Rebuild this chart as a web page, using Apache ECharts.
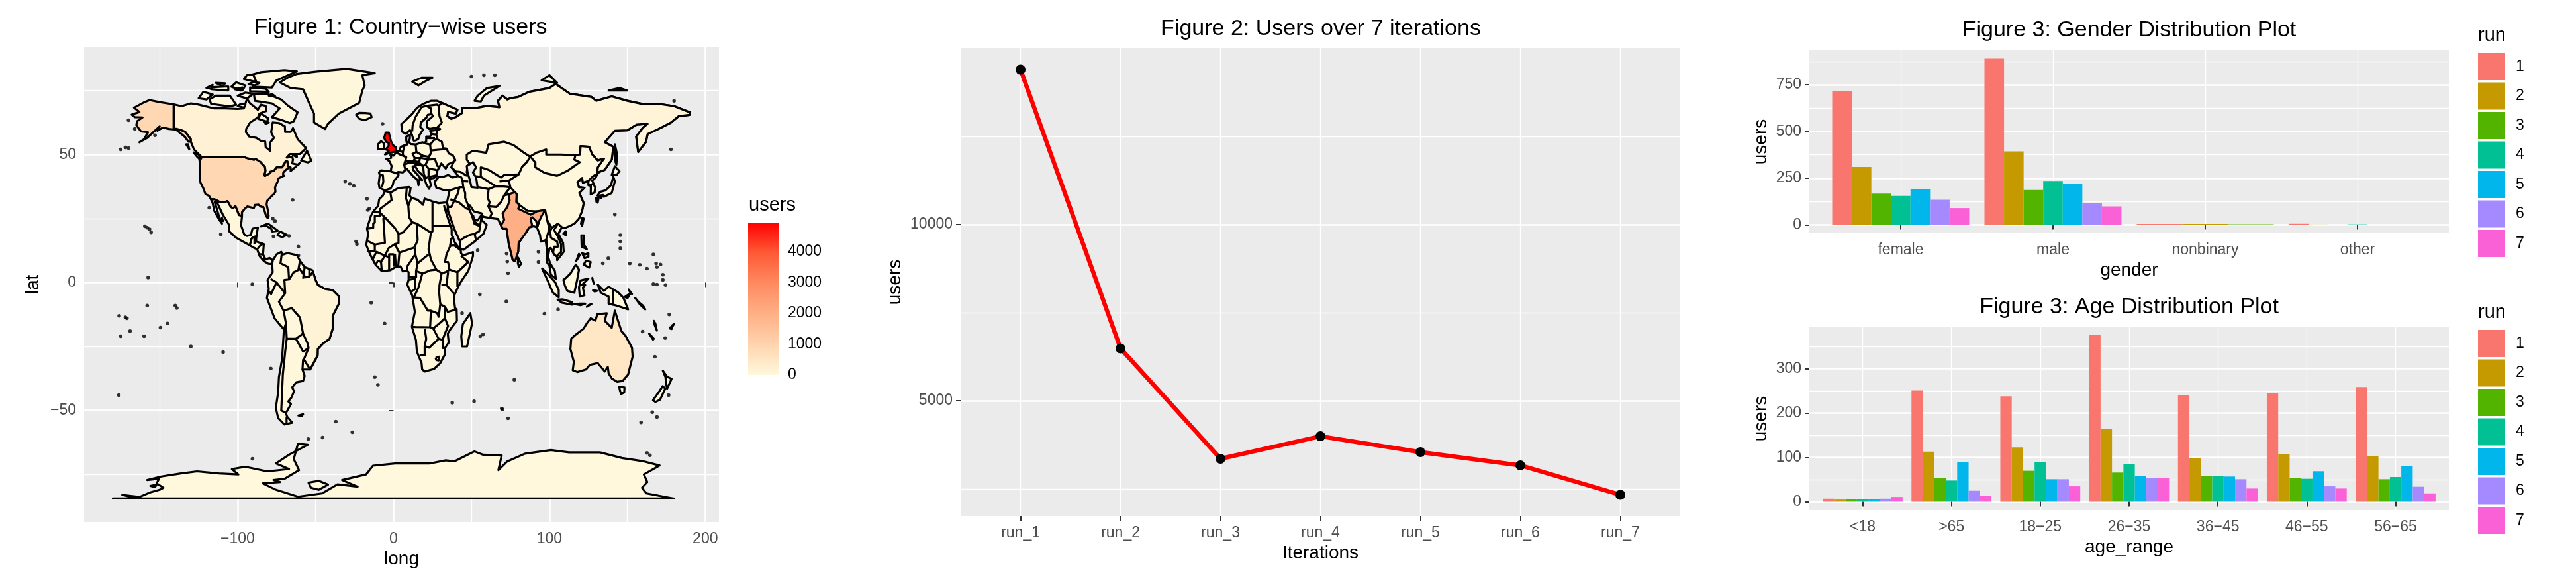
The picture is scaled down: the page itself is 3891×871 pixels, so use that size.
<!DOCTYPE html>
<html>

<head>
    <meta charset="UTF-8">
    <title>Figures</title>
    <script src="https://cdn.jsdelivr.net/npm/echarts@6/dist/echarts.min.js"></script>
</head>

<body style="margin: 0;padding: 0;background: #fff;">
    <div id="container" style="width:3891px; height:871px;"></div>
    <script>
        // ---- figure 2 ----
        var iterationLabels = ['run_1', 'run_2', 'run_3', 'run_4', 'run_5', 'run_6', 'run_7'];
        var iterationUsers = [14392, 6482, 3352, 3989, 3540, 3164, 2329];

        // ---- figure 3 ----
        var runNames = ['1', '2', '3', '4', '5', '6', '7'];
        var runColors = ['#F8766D', '#C49A00', '#53B400', '#00C094', '#00B6EB', '#A58AFF', '#FB61D7'];
        var genderLabels = ['female', 'male', 'nonbinary', 'other'];
        var genderRun1 = [717, 890, 5, 6];
        var genderRun2 = [310, 394, 5, 2];
        var genderRun3 = [167, 187, 3, 1];
        var genderRun4 = [155, 235, null, 3];
        var genderRun5 = [192, 218, null, 1];
        var genderRun6 = [135, 116, null, 1];
        var genderRun7 = [90, 99, null, 1];
        var genderByRun = [genderRun1, genderRun2, genderRun3, genderRun4, genderRun5, genderRun6, genderRun7];

        var ageLabels = ['<18', '>65', '18\u221225', '26\u221235', '36\u221245', '46\u221255', '56\u221265'];
        var ageRun1 = [7, 251, 238, 376, 241, 245, 259];
        var ageRun2 = [5, 113, 123, 165, 98, 107, 103];
        var ageRun3 = [6, 53, 70, 66, 59, 53, 51];
        var ageRun4 = [6, 48, 90, 86, 59, 52, 56];
        var ageRun5 = [6, 90, 51, 59, 57, 69, 81];
        var ageRun6 = [7, 25, 51, 54, 51, 35, 34];
        var ageRun7 = [11, 13, 35, 54, 30, 30, 19];
        var ageByRun = [ageRun1, ageRun2, ageRun3, ageRun4, ageRun5, ageRun6, ageRun7];

        // ---- figure 1: users per country and outlines, flat lon,lat lists ----
        var colorBarTicks = [0, 1000, 2000, 3000, 4000];
        var maxUsers = 4944;
        var rampColors = ['#FFF8DC', '#FFD4AE', '#FFB086', '#FF8A60', '#FF5A36', '#FF0000'];

        var eurasia = [-9, 37, -9.5, 38.7, -8.8, 41.9, -9.3, 43, -8, 43.8, -1.8, 43.4, -1.2, 45.5, -2.5, 47.3, -4.7, 48.3, -1.5, 48.7, -1.7, 49.7, 0.2, 49.6, 1.6, 50.9, 3.5, 51.4, 4.7, 53, 7, 53.6, 8.7, 53.9, 8.2, 55.5, 8.2, 57, 10.5, 57.7, 10.5, 56.3, 9.8, 55, 11, 54.1, 14.2, 53.9, 18.5, 54.8, 19.8, 54.5, 21, 55.2, 21, 57, 23.5, 57, 24.4, 58.3, 23.5, 59.2, 28, 59.6, 30, 60, 28, 60.5, 23, 60, 21.3, 60.8, 21.5, 63, 25.3, 65, 24.5, 65.8, 22, 65.5, 21.2, 64.5, 17.5, 62.5, 17.2, 60.7, 19, 59.8, 16.6, 57.5, 16, 56.2, 14.3, 55.5, 13, 55.4, 11.2, 58.9, 10.6, 59.5, 8, 58.1, 5.5, 58.9, 5, 61.8, 8.5, 63.8, 12, 65.9, 15, 68.2, 19, 69.8, 24, 71, 28, 71, 31, 70.2, 41, 67.5, 40, 66, 35, 66.7, 34.5, 65, 37, 63.9, 40, 64.6, 44, 66.2, 44, 68.3, 54, 68.3, 60, 69, 68, 68.5, 67, 71, 70, 73, 73, 71.5, 75, 72, 80, 72.5, 87, 74.5, 100, 76, 104, 77.6, 113, 73.8, 127, 72.5, 130, 71, 140, 72.7, 150, 71, 160, 69.7, 170, 69.8, 180, 68.9, 190, 66.5, 190, 65.5, 183, 65, 178, 62.5, 170, 60, 163, 58, 162, 55, 157, 51, 155.7, 57, 160, 60.5, 163, 62, 156, 61.7, 150, 59.5, 142, 59.3, 135.5, 54.8, 141, 53, 140, 48, 135.5, 44, 132, 43.2, 130.7, 42.3, 129.7, 41, 127.5, 39.8, 129.4, 37, 129, 35.2, 126.5, 34.4, 126.6, 37.7, 125, 38, 125, 39.7, 121.5, 39, 121, 40.8, 118, 39.2, 119, 37.2, 122.5, 37, 119.2, 35, 122, 31, 121, 28, 119, 25, 116, 23, 113.5, 22.2, 110, 21.3, 108, 21.6, 105.8, 19, 108.8, 15.5, 109.2, 12, 105, 8.7, 105, 10, 103, 11, 100.9, 13.5, 100, 13.3, 99.2, 10, 100.5, 7.5, 103.5, 4.5, 104.2, 1.4, 101, 3, 100, 6.5, 98.3, 8, 98.6, 12, 97.6, 16.5, 94.5, 16, 94, 18.5, 92, 21.5, 90, 22, 87, 21.5, 85, 19.5, 80.3, 15.5, 80, 12, 78, 8.3, 76.5, 8.8, 74, 15, 72.8, 20, 72.5, 21, 70, 21, 69, 22.3, 67, 24.8, 62, 25.2, 57.5, 25.7, 56.5, 27, 51.5, 27.8, 49, 30.2, 48, 30, 48.7, 28.5, 50.1, 26.5, 51.2, 26, 51.6, 24.5, 54, 24.2, 56.3, 26.2, 56.8, 24.2, 59.8, 22.5, 57.7, 19, 52, 16, 45, 12.8, 43, 13, 42.7, 16, 39, 21, 35, 28, 34.9, 29.5, 34.3, 31.3, 36, 36, 32.5, 36.1, 30.5, 36.5, 27.5, 37, 26.3, 39.3, 29, 41.2, 31.5, 41.2, 35, 42, 38, 41, 41.5, 41.6, 37.5, 44.7, 39, 47.2, 35, 46.2, 33.5, 44.5, 30.7, 46.5, 28, 43.5, 28, 41.7, 26, 40.8, 23, 40.5, 24, 38, 22.8, 36.6, 21, 38.5, 19.4, 41.5, 15.8, 43.5, 13.8, 45.5, 12.3, 45.3, 12.5, 44, 16, 41.7, 18.4, 40, 16.8, 40.5, 16, 38, 15.5, 40, 12.5, 41.5, 10.5, 43, 8.5, 44.4, 6, 43, 3, 43.2, 3.2, 41.8, 0, 39.5, -0.5, 38, -2, 36.7, -5.5, 36];
        var russia = [28, 59.6, 30, 60, 28, 60.5, 31, 62.5, 29.5, 65, 29, 69, 31, 70.2, 41, 67.5, 40, 66, 35, 66.7, 34.5, 65, 37, 63.9, 40, 64.6, 44, 66.2, 44, 68.3, 54, 68.3, 60, 69, 68, 68.5, 67, 71, 70, 73, 73, 71.5, 75, 72, 80, 72.5, 87, 74.5, 100, 76, 104, 77.6, 113, 73.8, 127, 72.5, 130, 71, 140, 72.7, 150, 71, 160, 69.7, 170, 69.8, 180, 68.9, 190, 66.5, 190, 65.5, 183, 65, 178, 62.5, 170, 60, 163, 58, 162, 55, 157, 51, 155.7, 57, 160, 60.5, 163, 62, 156, 61.7, 150, 59.5, 142, 59.3, 135.5, 54.8, 141, 53, 140, 48, 135.5, 44, 132, 43.2, 130.7, 42.5, 131, 45, 135, 48.4, 131, 47.7, 127.5, 50, 125.5, 53, 120, 53.3, 119.7, 50, 116.7, 49.8, 107, 50, 98, 50, 98, 52, 92, 50.8, 87.5, 49.2, 83, 51, 77, 53.7, 71, 55, 61, 54, 59.5, 50.7, 51, 51.5, 47, 50, 47, 48, 49, 46.3, 47.5, 45.5, 47, 43, 48.5, 41.8, 46.7, 41.8, 43, 43.2, 40, 43.4, 37, 45, 38.5, 47, 39.7, 47.8, 38, 49.8, 35.5, 50.4, 34, 52.3, 31.7, 52.5, 31, 55, 28, 56, 27.5, 57.8];
        var china = [130.7, 42.5, 131, 45, 135, 48.4, 131, 47.7, 127.5, 50, 125.5, 53, 120, 53.3, 119.7, 50, 116.7, 49.8, 116, 48, 119.5, 47, 111.8, 43.7, 105, 41.7, 97, 42.8, 91, 45, 91, 46.8, 87.8, 49.2, 85.5, 47, 82.5, 45.2, 80.3, 42.2, 74, 39.8, 75, 37.2, 79, 34.5, 78.8, 31.5, 81, 30.2, 86, 28, 92, 27.8, 97.3, 28.3, 98.5, 24.5, 101.5, 21.3, 105.5, 23, 108, 21.6, 110, 21.3, 113.5, 22.2, 116, 23, 119, 25, 121, 28, 122, 31, 119.2, 35, 122.5, 37, 119, 37.2, 118, 39.2, 121, 40.8, 121.5, 39, 125, 39.7, 128, 41.5];
        var india = [74, 34.5, 78, 35.3, 79, 34.5, 78.8, 31.5, 81, 30.2, 80, 28.8, 88, 26.5, 89, 26.8, 92, 27.8, 97.3, 28.3, 95, 26, 93.5, 24, 92.3, 21.8, 91.5, 24, 89, 25.5, 88, 25, 89, 22, 87, 21.5, 85, 19.5, 80.3, 15.5, 80, 12, 78, 8.3, 76.5, 8.8, 74, 15, 72.8, 20, 72.5, 21, 70, 21, 69, 22.3, 71, 24.5, 70, 27, 73, 29.5, 74.5, 32];
        var saudiArabia = [34.9, 29.5, 37, 29.5, 39, 32, 42, 31.3, 46.5, 29, 48.7, 28.5, 50.1, 26.5, 51.2, 24.5, 52, 22.9, 55.5, 22, 55, 20, 52, 19, 49, 18.6, 45, 17.4, 43, 16.5, 42.7, 16, 39, 21, 35, 28];
        var usa = [-124.7, 48.4, -123, 49, -95.2, 49, -94.6, 48.7, -92, 48.3, -89.5, 48, -88.4, 48.3, -84.8, 46.9, -84.5, 46.4, -82.5, 45.3, -82.1, 43.6, -82.5, 42.6, -83.1, 42, -82.4, 41.7, -79, 42.8, -79, 43.3, -76.8, 43.6, -75, 45, -71.5, 45, -70.3, 46.2, -69.2, 47.4, -68, 47.3, -67.8, 45.7, -67, 44.9, -69, 44, -70.7, 43, -70.8, 42, -70, 41.7, -71.5, 41.4, -74, 40.6, -74.2, 39.5, -75.5, 38, -76, 37, -75.7, 35.5, -76.5, 34.7, -78, 33.9, -79.3, 33, -81, 32, -81.4, 30.5, -80.5, 28, -80.1, 26, -80.6, 25.1, -81.8, 26, -82.7, 28, -83.5, 29.5, -85, 29.6, -86.5, 30.4, -89, 30.3, -89.5, 29.2, -91, 29.3, -93.8, 29.7, -95.5, 28.8, -97.2, 27.5, -97.2, 25.9, -99.2, 26.4, -101.4, 29.8, -103, 29, -104.5, 29.6, -106.5, 31.8, -108.2, 31.4, -111, 31.3, -114.8, 32.5, -117.1, 32.5, -118.4, 33.9, -120.6, 34.5, -122, 36.8, -123.8, 39, -124.3, 40.4, -124.1, 43, -124, 46.3];
        var alaska = [-141, 69.6, -141, 60.3, -139, 60, -136, 59.5, -133.5, 58.8, -130, 56, -130, 55, -131.5, 55, -134, 57, -136.5, 58.2, -139.5, 59.7, -144, 60, -148, 60.5, -151.5, 59.3, -150, 61, -154, 58.8, -158, 56.5, -163, 54.8, -160, 56, -157.5, 58.7, -162, 59, -165, 61.5, -164.5, 63, -161, 64.5, -166, 64.6, -168, 65.6, -163, 66.6, -166.5, 68.3, -160, 70.4, -156.5, 71.3, -150, 70.5];
        var canada = [-141, 69.6, -136, 68.9, -130, 70, -125, 69.5, -115, 68, -108, 68, -100, 67.8, -96, 68, -94, 71.8, -92, 70, -90, 69, -87, 67.5, -85, 69.5, -82, 69, -81.5, 67, -86, 66, -87, 64.5, -92, 62.5, -94.5, 60, -94.7, 58.8, -92.5, 57, -88, 56.5, -85, 55.3, -82.3, 55.1, -82, 52.9, -79, 51.4, -79, 54.8, -76.7, 56.5, -78.5, 58.7, -77.5, 62.5, -73.5, 62.3, -69.7, 61, -69.5, 58.8, -66, 58.8, -64.5, 60.3, -61.5, 56, -56, 52.5, -60, 50.2, -66.5, 50.2, -68.5, 48.8, -65, 49.2, -64.5, 48, -65, 46.5, -61, 46, -60, 46.8, -63.5, 44.8, -66, 43.5, -66, 45, -67, 44.9, -67.8, 45.7, -68, 47.3, -69.2, 47.4, -70.3, 46.2, -71.5, 45, -75, 45, -76.8, 43.6, -79, 43.3, -79, 42.8, -82.4, 41.7, -83.1, 42, -82.5, 42.6, -82.1, 43.6, -82.5, 45.3, -84.5, 46.4, -84.8, 46.9, -88.4, 48.3, -89.5, 48, -92, 48.3, -94.6, 48.7, -95.2, 49, -123, 49, -128, 52, -130, 55, -130, 56, -133.5, 58.8, -136, 59.5, -139, 60, -141, 60.3];
        var greenland = [-73, 78.2, -66, 76, -58, 75.5, -54, 70, -51, 66, -51, 62.5, -44, 60, -42, 62, -35, 66, -22, 70.2, -20, 75, -18.5, 77, -20, 81, -12, 81.8, -30, 83.5, -50, 82.4, -62, 81.5, -68, 80];
        var mexico = [-117.1, 32.5, -114.8, 32.5, -111, 31.3, -108.2, 31.4, -106.5, 31.8, -104.5, 29.6, -103, 29, -101.4, 29.8, -99.2, 26.4, -97.2, 25.9, -97.8, 22.3, -95.8, 18.8, -94, 18.2, -91.5, 18.6, -90.5, 21, -87, 21.5, -88, 18, -89, 17.9, -91, 17.2, -92.2, 14.5, -96, 15.8, -101, 17.5, -105.5, 20, -105.5, 22.5, -109.5, 26.5, -113, 31, -114.7, 31.5, -112, 26, -110, 23, -112, 24.7, -115, 28, -116, 31];
        var centralAmerica = [-92.2, 14.5, -91, 17.2, -89, 17.9, -88, 18, -88.2, 16, -83.2, 15, -83.7, 11, -82, 9, -79.5, 9.6, -77.4, 8.7, -77.8, 7.2, -80.3, 7.3, -83, 8.3, -85.8, 10.2, -87.5, 13, -90, 13.7];
        var southAmerica = [-77.4, 8.7, -75, 11, -72, 12, -71.5, 10.8, -68, 11.5, -62, 10.7, -60, 8.5, -57, 6, -52, 4.8, -50, 1, -48.5, -1, -44, -2.5, -39, -3, -35.2, -5.3, -34.8, -8, -39, -13, -39, -18, -41, -22, -45, -23.7, -48.6, -26, -48.7, -28.5, -53.5, -34, -58.4, -34, -57, -36.5, -58, -38.5, -62.3, -39, -65, -41, -63.8, -42.5, -65.5, -45, -67.5, -46.5, -65.8, -47.5, -69, -51, -68.3, -52.4, -65, -54.8, -70, -55.5, -74, -53, -75.5, -49, -74, -43, -73.5, -37, -71.5, -30, -70.3, -18.4, -76.3, -14, -81.2, -6, -80, -2.5, -80.8, 1, -77.5, 4, -77.8, 7.2];
        var brazil = [-60, 5.2, -56.5, 2, -54, 2.3, -51.7, 4.2, -50, 1, -48.5, -1, -44, -2.5, -39, -3, -35.2, -5.3, -34.8, -8, -39, -13, -39, -18, -41, -22, -45, -23.7, -48.6, -26, -48.7, -28.5, -53.5, -34, -57.5, -30, -54.5, -25.6, -55, -24, -58, -20, -60, -13.7, -65.3, -10, -70.5, -11, -73.5, -7.5, -69.5, -4.2, -70, 1, -67, 1.2, -64, 4];
        var africa = [-5.5, 35.8, -2, 35.1, 3, 36.9, 10, 37.3, 11, 36.9, 10.2, 34, 11.5, 33.1, 15.5, 32.3, 19, 30.4, 20, 32.8, 25, 31.7, 29, 31, 32.3, 31.2, 34.3, 31.3, 34.9, 29.5, 34.2, 27.8, 33, 28.5, 32.5, 29.9, 34, 26.7, 35.5, 24, 37.3, 21, 37.3, 18.7, 39.5, 15.5, 43.2, 12.5, 43.3, 11.5, 44.5, 10.5, 51, 11.9, 51, 10.3, 48, 4.5, 44, 1, 41.5, -1.7, 39.2, -4.7, 38.8, -6.5, 39.5, -10, 40.5, -10.5, 40.7, -15, 36.8, -18, 34.8, -20, 35.4, -23.5, 32.8, -25.8, 32.8, -28.3, 30, -31.5, 26, -33.8, 20, -34.8, 18.4, -34, 18, -31.5, 15, -27, 14.4, -22.5, 11.8, -17.3, 13.7, -11.5, 12, -5, 8.8, -0.8, 9.7, 1, 9.7, 4, 8.5, 4.7, 6, 4.3, 4.5, 6.3, 1.5, 6.1, -2, 4.8, -7.5, 4.4, -11.5, 6.9, -13.3, 9, -15, 11, -17.5, 14.7, -16.2, 19, -17, 21, -14.5, 26, -12.9, 27.8, -9.8, 30, -9.2, 32.5, -6.8, 34];
        var australia = [114, -22, 116.5, -20.6, 122, -18, 124, -16, 126.5, -14, 129.5, -14.9, 130.8, -12.4, 136.8, -12, 135.5, -15, 140, -17.7, 142, -11, 143.8, -14.5, 146.2, -19, 149, -21, 153, -25.5, 153.4, -29, 150.5, -36, 147, -38.5, 143.5, -38.8, 140, -37.5, 138, -35.5, 137.5, -33, 135.5, -34.8, 131, -31.5, 126, -32.2, 123.5, -34, 118, -35, 115, -34.3, 115.7, -31, 113.5, -26];
        var antarctica = [-180, -84.4, -165, -84.3, -174, -83, -163, -83.8, -156, -82, -150, -81, -147.6, -80.2, -152, -78.5, -150.4, -76.7, -158, -77.2, -149, -75.8, -136.4, -74.6, -126, -73.8, -112, -74.6, -99.5, -75, -103.7, -72.9, -95.2, -72, -81, -73.8, -67, -72.9, -75.4, -70.7, -67, -67.3, -55, -63.4, -61.3, -63, -64, -69, -60.6, -73.3, -69.8, -76.7, -77, -77.2, -72.7, -78, -83.9, -78.5, -75.4, -81, -61.3, -83.7, -45.7, -82.4, -35.9, -78.9, -23, -79.8, -33, -77.2, -17.6, -75, -13.2, -71.6, 0.9, -70.7, 23.5, -70.7, 33.5, -69.5, 39, -69.9, 51.9, -66, 57.5, -67.3, 69.4, -67.6, 67.3, -73.3, 73, -69.9, 84.3, -66.9, 101, -65.5, 112.6, -66.4, 132.5, -66.4, 146.6, -68.6, 160.6, -69.9, 170.7, -71.5, 160.6, -75, 162.8, -78, 159.4, -80.2, 162.2, -82.4, 179.8, -84.4];

        var landNames = ['Eurasia', 'Russia', 'China', 'India', 'Saudi Arabia', 'USA', 'Alaska', 'Canada', 'Greenland', 'Mexico', 'Central America', 'South America', 'Brazil', 'Africa', 'Australia', 'Antarctica'];
        var landUsers = [20, 110, 20, 2000, 300, 900, 900, 170, 20, 30, 20, 20, 150, 20, 500, 10];
        var landOutlines = [eurasia, russia, china, india, saudiArabia, usa, alaska, canada, greenland, mexico, centralAmerica, southAmerica, brazil, africa, australia, antarctica];

        var unitedKingdom = [-5.5, 50, -3, 50.5, 1.4, 51.2, 1.7, 52.7, 0, 53.5, -1.5, 55, -2, 56, -3, 58.6, -5, 58.6, -6, 56.5, -4.8, 55, -3, 54.5, -3.2, 53.3, -5, 52, -3, 51.5];
        var islandOutlines = [
            [-10, 52, -6.2, 52.2, -6, 54.4, -8, 55.2, -10, 54],
            [-24, 65.5, -22, 64, -18.5, 63.4, -14, 64.6, -14.8, 66, -18, 66.2, -22, 66.3],
            [12, 78.5, 16, 77, 20, 78.5, 25, 80, 18, 80],
            [52, 71, 56, 70.7, 58, 73, 68, 76.8, 60, 76, 54, 73],
            [95, 79, 105, 78, 100, 81],
            [138, 75, 150, 75, 145, 76],
            [142, 54, 143.5, 50, 143, 46, 142, 48],
            [130.9, 34, 135, 33.5, 140, 35, 142, 39.5, 141, 41.3, 139.5, 38, 136, 36, 132.5, 35.4],
            [140, 42, 143.2, 42, 145, 43.5, 142, 45.4],
            [130, 33, 131.8, 33.5, 131, 31.2, 130.2, 31.5],
            [132.5, 34, 134.5, 34.2, 133, 33],
            [120.3, 23, 121, 22, 122, 25, 121, 25.2],
            [109, 19, 110.5, 20, 110.5, 18.5],
            [80, 9.7, 81.8, 7.3, 80.5, 6, 79.8, 7.5],
            [120.5, 18.4, 122.3, 18.4, 122, 15, 124, 13, 120.7, 14],
            [122, 7, 125.5, 5.8, 126.5, 8, 123.5, 8.5],
            [121, 11.5, 123, 11, 125, 11.5, 125, 10, 122.5, 9.5],
            [117.2, 8.4, 119.5, 10.7, 119, 11.2],
            [95.3, 5.5, 98, 4, 103.8, 0, 106, -3, 106, -5.8, 102.3, -4, 98.7, 1],
            [105.3, -6.7, 108.5, -6.6, 114.5, -7.7, 114.5, -8.7, 108, -7.9],
            [109, 1, 111, 2, 113.5, 3.5, 117, 7, 119, 5, 117.8, 1, 116, -4, 111.5, -3.3, 110, -1.3],
            [119.5, -5.5, 119, -2, 120, 0.8, 125, 1.5, 121, -0.9, 123, -1, 121.5, -2, 122.5, -5],
            [124, -9.5, 127, -8.4, 125, -8.9],
            [116, -8.4, 119, -8.3, 123, -8.3, 120, -8.9],
            [127.5, 1.8, 128.5, -0.5, 128, 0.5],
            [128, -3, 130.5, -3.3, 129, -3.5],
            [131, -0.8, 135, -3.3, 138, -1.7, 144, -3.8, 147.5, -6, 150.5, -10.5, 147, -9.8, 143, -9, 138, -8.3, 138, -5.5, 133, -4],
            [148.5, -5.6, 152, -4.2, 150, -6.2],
            [150.8, -2.7, 153, -4.5, 152, -4],
            [155, -6, 157, -7.5, 160, -9, 161.5, -10.5, 158, -8.5],
            [167, -15, 168, -16, 169, -18.8, 167.5, -16.5],
            [164, -20, 167, -22, 166.5, -22.3],
            [177.5, -17.5, 178.6, -17.4, 178.4, -18.2, 177.4, -18],
            [178.8, -16.8, 180, -16.2, 179.3, -16.9],
            [144.8, -40.8, 148.2, -41, 148, -43, 146, -43.6, 145.2, -42],
            [172.8, -34.5, 175.5, -36.8, 178.4, -37.7, 175.5, -41.5, 174.8, -39.5, 174.5, -37],
            [172.7, -40.5, 174.3, -41.5, 171, -45.8, 168, -46.7, 166.5, -46, 170, -43],
            [49.3, -12, 50.4, -16, 47.2, -25, 44, -25, 43.5, -21, 44.5, -16.3],
            [-84.9, 21.9, -80.5, 23, -74.2, 20.2, -77.7, 19.9, -78.5, 21, -82, 22.3],
            [-74.4, 18.5, -72.8, 19.9, -68.4, 18.6, -71.5, 17.7],
            [-59.3, 47.6, -55.5, 51.5, -52.7, 47.5, -55, 46.9],
            [-128.2, 50.8, -125, 50, -123.4, 48.4, -125.5, 48.8],
            [-133, 54, -131.8, 54, -131, 52],
            [-64.5, 49.8, -62, 49.5, -62, 49],
            [-61.5, 66.5, -64, 63, -66.5, 62.3, -72, 63.5, -78, 64.6, -73, 68, -78, 70, -89, 71, -89.5, 73.5, -81, 73.7, -72, 71.5, -67.5, 69],
            [-117, 69.8, -105, 68.8, -101, 69.5, -105, 73, -114, 73, -118, 71.5],
            [-125, 72, -120, 71.5, -116, 73.5, -122, 74.5],
            [-90, 76.5, -78, 76.2, -75, 79, -62, 82.5, -70, 83, -85, 82.2, -92, 81, -88, 78.5],
            [-92, 74.7, -80, 74.5, -82, 75.7, -92, 76.2],
            [-96, 79.5, -88, 78.3, -90, 81.3, -94, 81],
            [-117, 75.5, -106, 75, -106, 76.6, -116, 76.3],
            [-100, 73, -94, 71.9, -90, 73.7, -95, 74.2],
            [-87, 64, -81, 62.8, -80.5, 64.2, -85, 66],
            [-104, 76.5, -97, 75, -95, 77, -101, 78.2],
            [-114, 78, -108, 77.8, -110, 76.8],
            [-102, 75.5, -98, 75, -97, 76.2],
            [-93, 77.5, -89, 77, -86, 78, -90, 78.3],
            [-80, 73, -76, 72.8, -78, 73.7],
            [-100, 69, -96, 68.3, -95, 69.5, -98, 69.8],
            [-83, 63, -80, 62.5, -82, 62],
            [-120, 76, -117, 75.7, -116, 77.2],
            [-61, -52, -58, -51.5, -59, -52.3],
            [-54.5, -78.2, -48, -77.5, -42, -79, -48, -81, -53, -80.2],
            [-156, -79.5, -152, -79, -153, -80],
            [-110, 25.2, -109.4, 24, -110, 24.5]
        ];
        var lakeOutlines = [
            [47, 45.5, 51, 47, 53, 45, 51, 43, 53, 41, 54, 37, 50, 37.3, 49, 40, 47.5, 43]
        ];
        var borderLines = [
            [-8.8, 41.9, -6.8, 41.9, -6.5, 39.5, -7.4, 37.2], [-1.8, 43.4, 3.2, 42.4], [1.6, 50.9, 4.2, 50, 8.2, 49, 7.6, 47.6, 6.8, 46, 7.6, 44],
            [3.5, 51.4, 6, 51, 6.1, 49.6, 8.2, 49], [7, 53.3, 6, 51], [14.2, 53.9, 14.7, 51, 12.2, 50.3, 13.7, 48.6, 13, 47.5, 7.6, 47.6], [8.7, 54.9, 9.8, 54.9],
            [14.7, 51, 19, 49.5, 22.8, 49.1, 24, 50.7, 23.5, 53.9, 19.8, 54.4], [13.7, 48.6, 17, 48.7, 19, 49.5], [17, 48.7, 22.2, 48.2, 22.8, 49.1], [13, 47.5, 16.5, 47, 17, 48.7],
            [6.8, 46, 10, 46.8, 13.7, 46.5, 13.8, 45.6], [13.7, 46.5, 16.5, 46.8, 19, 45.5, 19.5, 42.2], [13.8, 45.6, 16, 46.2, 19, 45.5], [22.2, 48, 26.6, 48.2, 28.2, 45.5, 29.6, 45.2],
            [22.5, 44.5, 27, 44, 28.5, 43.7], [19, 45.5, 20.5, 46, 22.2, 48], [20.5, 46, 22.5, 44.5, 22.5, 41.2], [22.5, 41.2, 26.3, 41.7, 28, 42], [19.4, 40.2, 20.8, 40.8, 22.5, 41.2], [19.5, 42.2, 20.8, 40.8], [26.3, 41.7, 26, 40.8],
            [36, 36, 42.3, 37.2, 44.8, 37.2, 44.3, 39.6, 43.5, 41.1, 41.5, 41.6], [24, 51.6, 31, 52, 34, 52.3], [23.5, 53.9, 26, 55.7, 28, 56], [21, 56.4, 26.6, 56.4], [24.4, 58, 27.5, 57.8], [22.2, 48.2, 24, 50.7],
            [12, 59, 12.3, 61.5, 14, 64.5, 18, 68.5, 21, 69, 28, 69.5, 29, 69], [24, 65.8, 24, 68, 21, 69],
            [42.3, 37.2, 41, 34.4, 39, 32], [36.5, 32.5, 39, 32], [44.8, 37.2, 46, 35, 46, 33, 48, 30], [61, 36.5, 60.5, 33, 61.7, 31.3, 60.8, 29.8, 63, 27, 61.7, 25], [44.3, 39.6, 48, 39.5], [54, 37.3, 61, 36.5],
            [61, 36.5, 65, 37.5, 71, 37.5, 74.8, 37.2, 71, 34, 69, 31.5, 66, 29.5, 60.8, 29.8], [71, 34, 74, 34.5], [52.8, 41.5, 56, 41.3, 56, 45, 61, 44, 69, 41, 71, 42, 80.3, 42.2], [56, 41.3, 62, 39, 66, 37.5], [68, 39.5, 74, 39.8],
            [52, 19, 53, 16.6], [51.6, 24, 55.5, 22, 56.3, 25], [92.3, 21.8, 93, 24], [98.5, 24.5, 100, 21, 98, 17, 99, 11], [101.5, 21.3, 100.5, 20, 101, 17.5, 105, 16, 105.5, 14, 103, 14, 102.5, 12], [105.5, 23, 103, 20.5, 105, 18.5, 107.5, 15, 107.5, 12, 105, 10.5], [100, 6.5, 102, 6], [125, 38, 128.5, 38.5], [141, -2.6, 141, -9],
            [-89.2, 17.9, -89.2, 15.1], [-87.5, 13, -85, 14.8, -83.2, 15], [-85.8, 11, -83.7, 11], [-83, 8.3, -82.8, 9.6],
            [-71.5, 12, -72.5, 7.5, -67.5, 6, -67, 1.2], [-60, 8.5, -61, 5, -60, 5.2], [-57, 6, -58, 1.5], [-54, 5.5, -54, 2.3],
            [-69.5, -4.2, -75, 0, -78.8, 1.4], [-75, 0, -78.5, -4.5, -80, -3.4],
            [-70.5, -11, -69, -16, -70.3, -18.4], [-69, -16, -68.5, -22, -69.5, -27, -71, -36, -72, -50, -69, -51], [-68.6, -52.5, -68.6, -54.9], [-68.5, -22, -62.6, -22, -58, -20], [-62.6, -22, -58, -27, -54.5, -25.6], [-58.4, -34, -58, -30.2, -57.5, -30],
            [-2, 35.1, -1.2, 32.2, -8.7, 28.7, -8.7, 27.3], [-8.7, 27.3, -13, 27.7], [-17, 21, -13, 21.3, -13, 23, -12, 23.4, -12, 26, -8.7, 26, -8.7, 27.3], [-8.7, 27.3, -4.8, 25, -6.5, 25, -5.5, 15.5, -12, 14.8, -16.5, 16.2],
            [-4.8, 25, 1.2, 21, 3.2, 19, 6, 19.5, 12, 23.5, 10, 25.5, 9.5, 30, 8, 33, 8.5, 37], [9.5, 30, 11.5, 33.1], [12, 23.5, 15, 23, 24, 19.5, 25, 20, 25, 31.7], [25, 22, 37, 22], [15, 23, 15.5, 16.5, 13.5, 13.7], [13.5, 13.7, 3.8, 11.7, 2.5, 13, 1, 15, 3.2, 15.4, 3.2, 19], [3, 6.3, 3.8, 11.7], [13.5, 13.7, 14, 11, 9, 6.5, 8.5, 4.7],
            [24, 19.5, 22.5, 13, 24, 9, 27.5, 5, 31, 3.6, 34, 4.2, 35.9, 5, 35, 8, 33, 8, 34, 11, 36.2, 14, 37, 17, 38.6, 18], [14, 11, 15.5, 7.5, 22.5, 11], [15.5, 7.5, 14.5, 4.5, 18.5, 3.5, 24, 4.8, 27.5, 5], [9.8, 2.3, 14.5, 2, 14.5, 4.5], [9.7, 1, 14, 1.5, 14, -2.5, 11, -3.8],
            [18.5, 3.5, 16, -2, 13, -5.9, 12.2, -6], [13, -5.9, 17, -6, 22, -11, 24, -11, 28, -12, 29, -13.4, 30, -8.5, 29.3, -4, 29.5, -1, 30.7, 3, 31, 3.6], [11.8, -17.3, 14, -17.4, 23.5, -17.5, 24, -11], [23.5, -17.5, 25.5, -18, 30, -15.7, 33, -14, 33, -9.5, 30, -8.5],
            [34, -1, 39.2, -4.7], [30.7, -1, 34, -1, 35, 4], [33, -9.5, 34.8, -11.5, 40.5, -10.5], [30, -15.7, 33, -14, 35, -17, 33, -20, 31.5, -22.4, 32, -26], [25.5, -18, 29, -22, 31.5, -22.4], [20, -18, 21, -22, 20, -24.8, 23, -25.5, 29, -22], [17, -28.5, 20, -28.5, 20, -24.8], [27, -29.5, 29.2, -29, 29, -30.5, 27.5, -30.3, 27, -29.5],
            [35.9, 5, 41, 4, 41, -1.7], [41, 4, 48, 8, 43.2, 10.5], [36.5, 14.3, 39, 14.5, 43, 12.7], [-2.8, 5, -2.8, 11, 0, 11, 0.5, 6.2], [1.5, 6.1, 1, 11], [-7.5, 4.4, -8, 8, -5.5, 10.5, -2.8, 9.8], [-5.5, 10.5, -3, 13.5, 1, 15], [-13.3, 9, -11, 12, -5.5, 10.5], [-11.5, 6.9, -10, 8.5, -8, 8], [-16.7, 12.4, -12, 12.4, -12, 14.8]
        ];
        var tinyIslands = [[-155.5, 19.6], [-156.5, 20.8], [-158, 21.4], [-159.5, 22], [-157.4, 1.9], [-171, -14], [-172, -13.6], [-169, -19], [-175, -21], [-176, -13], [-160, -21], [-149.5, -17.6], [-145, -16], [-140, -9], [-139, -10], [-158, -9], [-130, -25], [-109.3, -27.2], [-78.7, -33.6], [-90.6, -0.7], [-176.2, -44], [-118.2, 29.2], [-110.8, 18.8], [-25.5, 37.8], [-28, 38.5], [-31, 39.5], [-16.5, 28.3], [-15.5, 28.9], [-17, 32.7], [-24, 16], [-23.5, 15], [-14.3, -7.9], [-5.7, -16], [-12, -37], [-10, -40], [-37, -54.4], [-26.4, -58.5], [-45.5, -60.6], [-54.7, -61.2], [-90.5, -68.9], [-64.7, 32.3], [-61, 14], [-61, 10.5], [-67, 18.2], [-77, 18], [-77.5, 25], [-76, 24], [-7, 62], [54, 12.6], [72.6, 11.3], [73, 8.2], [73.5, 3.6], [55.4, -4.7], [72.4, -7.4], [96.8, -12.2], [105.6, -10.5], [55.7, -21], [57.5, -20.3], [44, -12], [37.7, -47], [51.7, -46.4], [69.4, -49.3], [70, -49.6], [73.5, -53.1], [77.5, -38], [93, 12], [93, 8], [142, 26.6], [145.5, 18.5], [145.5, 16], [145.5, 13.4], [166.7, 11], [137.8, 9.5], [134.3, 7.5], [151.6, 7.4], [158, 6.9], [162.6, 5.4], [169, 6], [168.5, 7.4], [171.3, 7], [172.8, 3], [172.8, 1], [174.5, -1], [166.7, -0.6], [169, -0.8], [176.9, -12.5], [174.3, -21.7], [159.8, -19.2], [167.7, -29], [166, -50.7], [169, -52.6], [158.8, -54.7], [162.6, -66.6], [164.5, -67.5], [176.5, -44], [58, 81], [50, 80.5], [65, 81], [-170, 52.5], [-175, 52], [178, 52], [-170, 63.4], [-166, 60], [-153, 57.5], [-172, 52.8], [180, 71]];

        var FONT = 'Liberation Sans';
        var LABEL_COLOR = '#4D4D4D';
        var MAP_LINE = 3.2;
        var minus = function (v) { return String(v).replace('-', '\u2212'); };

        function toPairs(flat) {
            var pts = [];
            for (var i = 0; i < flat.length; i += 2) pts.push([flat[i], flat[i + 1]]);
            return pts;
        }

        // series that draws a list of outlines through the axes of one grid
        function outlineSeries(name, outlines, values, gridIdx, fixedFill) {
            return {
                type: 'custom', name: name, xAxisIndex: gridIdx * 2, yAxisIndex: gridIdx * 2,
                silent: true, clip: false,
                data: outlines.map(function (o, i) { return [i, values ? values[i] : 0]; }),
                renderItem: function (params, api) {
                    var pts = toPairs(outlines[params.dataIndex]).map(function (p) { return api.coord(p); });
                    return {
                        type: 'polygon', shape: { points: pts },
                        style: { fill: fixedFill || api.visual('color'), stroke: '#000', lineWidth: MAP_LINE, lineJoin: 'round' }
                    };
                }
            };
        }

        function borderSeries(lines, gridIdx) {
            return {
                type: 'custom', name: 'borders', xAxisIndex: gridIdx * 2, yAxisIndex: gridIdx * 2,
                silent: true, clip: false,
                data: lines.map(function (l, i) { return [i, 0]; }),
                renderItem: function (params, api) {
                    var pts = toPairs(lines[params.dataIndex]).map(function (p) { return api.coord(p); });
                    return { type: 'polyline', shape: { points: pts }, style: { fill: null, stroke: '#000', lineWidth: MAP_LINE, lineJoin: 'round' } };
                }
            };
        }

        // ggplot dodged bars: each group splits 0.9 of a unit between the runs it really has
        function dodgeSeries(byRun, gridIdx) {
            return byRun.map(function (values, r) {
                var data = [];
                values.forEach(function (v, c) {
                    if (v === null) return;
                    var present = byRun.filter(function (run) { return run[c] !== null; }).length;
                    var before = byRun.slice(0, r).filter(function (run) { return run[c] !== null; }).length;
                    var w = 0.9 / present;
                    data.push([c + 1, v, c + 0.55 + before * w, w]);
                });
                return {
                    type: 'custom', name: runNames[r], xAxisIndex: gridIdx * 2, yAxisIndex: gridIdx * 2,
                    itemStyle: { color: runColors[r] }, silent: true,
                    encode: { x: 0, y: 1 },
                    data: data,
                    renderItem: function (params, api) {
                        var a = api.coord([api.value(2), api.value(1)]);
                        var b = api.coord([api.value(2) + api.value(3), 0]);
                        return { type: 'rect', shape: { x: a[0], y: a[1], width: b[0] - a[0], height: b[1] - a[1] }, style: { fill: runColors[r] } };
                    }
                };
            });
        }

        // every panel has a major axis (ticks, labels, thick lines) and a minor one (thin lines only)
        function majorAxis(gridIdx, dim, range, ticks, name, nameGap, formatter, lineWidth) {
            var axis = {
                type: 'value', gridIndex: gridIdx, min: range[0], max: range[1],
                name: name, nameLocation: 'middle', nameGap: nameGap,
                nameTextStyle: { fontFamily: FONT, fontSize: 28, color: '#000' },
                axisLine: { show: false },
                axisTick: { show: true, length: 7, lineStyle: { color: '#333', width: 2 }, customValues: ticks },
                axisLabel: { show: true, customValues: ticks, fontFamily: FONT, fontSize: 23, color: LABEL_COLOR, margin: dim === 'x' ? 14 : 12, formatter: formatter || minus, hideOverlap: false },
                splitLine: { show: true, lineStyle: { color: '#fff', width: lineWidth || 2.6 } },
                minorSplitLine: { show: false }
            };
            axis.position = dim === 'x' ? 'bottom' : 'left';
            return axis;
        }
        function minorAxis(gridIdx, range, ticks) {
            return {
                type: 'value', gridIndex: gridIdx, min: range[0], max: range[1],
                axisLine: { show: false }, axisLabel: { show: false },
                axisTick: { show: false, customValues: ticks },
                splitLine: { show: ticks.length > 0, lineStyle: { color: '#fff', width: 1.3 } }
            };
        }

        function panelGrid(left, top, right, bottom) {
            return { left: left, top: top, width: right - left, height: bottom - top, show: true, backgroundColor: '#EBEBEB', borderWidth: 0 };
        }

        function heading(text, x, y, size, align) {
            return {
                text: text, left: x, top: y, textAlign: align || 'center', textVerticalAlign: 'middle', padding: 0,
                textStyle: { fontFamily: FONT, fontSize: size, fontWeight: 'normal', color: '#000' }
            };
        }

        function runLegend(top) {
            return {
                left: 3743, top: top, orient: 'vertical', icon: 'rect', itemWidth: 41, itemHeight: 41, itemGap: 3.5, padding: 0,
                selectedMode: false, data: runNames,
                textStyle: { fontFamily: FONT, fontSize: 23, color: '#000', padding: [0, 0, 0, 11] }
            };
        }

        var mapX = [-198.5, 208.8], mapY = [-93.6, 92];
        var iterX = [0.4, 7.6], iterY = [1726, 14995];
        var genderX = [0.4, 4.6], genderY = [-44.5, 934.5];
        var ageX = [0.4, 7.6], ageY = [-18.75, 393.75];

        var chart_container = echarts.init(document.getElementById('container'), null, { renderer: 'canvas' });

        var option = {
            animation: false,
            backgroundColor: '#fff',
            title: [
                heading('Figure 1: Country\u2212wise users', 605, 42, 34),
                heading('Figure 2: Users over 7 iterations', 1995, 44, 34),
                heading('Figure 3: Gender Distribution Plot', 3216, 46, 34),
                heading('Figure 3: Age Distribution Plot', 3216, 464, 34),
                heading('users', 1131, 310, 29, 'left'),
                heading('run', 3743, 54, 29, 'left'),
                heading('run', 3743, 472, 29, 'left')
            ],
            legend: [runLegend(80), runLegend(498)],
            visualMap: {
                show: false, type: 'continuous', min: 0, max: maxUsers, dimension: 1,
                seriesIndex: [0, 1], inRange: { color: rampColors }
            },
            grid: [
                panelGrid(127, 71, 1086, 788),
                panelGrid(1451, 73, 2538, 779),
                panelGrid(2733, 76, 3699, 352),
                panelGrid(2733, 494, 3699, 770),
                { left: 1130, top: 336, width: 46, height: 230, show: false }
            ],
            xAxis: [
                majorAxis(0, 'x', mapX, [-100, 0, 100, 200], 'long', 42),
                minorAxis(0, mapX, [-150, -50, 50, 150]),
                majorAxis(1, 'x', iterX, [1, 2, 3, 4, 5, 6, 7], 'Iterations', 42, function (v) { return iterationLabels[v - 1]; }, 1.3),
                minorAxis(1, iterX, []),
                majorAxis(2, 'x', genderX, [1, 2, 3, 4], 'gender', 42, function (v) { return genderLabels[v - 1]; }, 1.3),
                minorAxis(2, genderX, []),
                majorAxis(3, 'x', ageX, [1, 2, 3, 4, 5, 6, 7], 'age_range', 42, function (v) { return ageLabels[v - 1]; }, 1.3),
                minorAxis(3, ageX, []),
                { type: 'value', gridIndex: 4, min: 0, max: 1, show: false },
                { type: 'value', gridIndex: 4, min: 0, max: 1, show: false }
            ],
            yAxis: [
                majorAxis(0, 'y', mapY, [-50, 0, 50], 'lat', 63),
                minorAxis(0, mapY, [-75, -25, 25, 75]),
                majorAxis(1, 'y', iterY, [5000, 10000], 'users', 85),
                minorAxis(1, iterY, [2500, 7500, 12500]),
                majorAxis(2, 'y', genderY, [0, 250, 500, 750], 'users', 59),
                minorAxis(2, genderY, [125, 375, 625, 875]),
                majorAxis(3, 'y', ageY, [0, 100, 200, 300], 'users', 59),
                minorAxis(3, ageY, [50, 150, 250, 350]),
                {
                    type: 'value', gridIndex: 4, min: 0, max: maxUsers, position: 'right',
                    axisLine: { show: false }, splitLine: { show: false },
                    axisTick: { show: true, inside: true, length: 9, customValues: colorBarTicks, lineStyle: { color: '#fff', width: 1.2 } },
                    axisLabel: { customValues: colorBarTicks, margin: 14, fontFamily: FONT, fontSize: 23, color: '#000', formatter: function (v) { return String(v); } }
                },
                {
                    type: 'value', gridIndex: 4, min: 0, max: maxUsers, position: 'left',
                    axisLine: { show: false }, splitLine: { show: false }, axisLabel: { show: false },
                    axisTick: { show: true, inside: true, length: 9, customValues: colorBarTicks, lineStyle: { color: '#fff', width: 1.2 } }
                }
            ],
            series: [
                outlineSeries('land', landOutlines, landUsers, 0),
                outlineSeries('United Kingdom', [unitedKingdom], [maxUsers], 0),
                outlineSeries('islands', islandOutlines, null, 0, '#FFF8DC'),
                outlineSeries('lakes', lakeOutlines, null, 0, '#EBEBEB'),
                borderSeries(borderLines, 0),
                {
                    type: 'scatter', name: 'tiny islands', xAxisIndex: 0, yAxisIndex: 0, silent: true,
                    symbol: 'circle', symbolSize: 5.5, itemStyle: { color: '#000' }, data: tinyIslands
                },
                {
                    type: 'line', name: 'users', xAxisIndex: 2, yAxisIndex: 2, silent: true,
                    data: iterationUsers.map(function (v, i) { return [i + 1, v]; }),
                    lineStyle: { color: '#FF0000', width: 6.5 }, symbol: 'circle', symbolSize: 15,
                    itemStyle: { color: '#000' }
                },
                {
                    type: 'custom', name: 'users bar', xAxisIndex: 8, yAxisIndex: 8, silent: true,
                    data: [[0, 0]],
                    renderItem: function (params, api) {
                        var a = api.coord([0, maxUsers]), b = api.coord([1, 0]);
                        var stops = rampColors.map(function (c, i) { return { offset: 1 - i / (rampColors.length - 1), color: c }; }).reverse();
                        return {
                            type: 'rect', shape: { x: a[0], y: a[1], width: b[0] - a[0], height: b[1] - a[1] },
                            style: { fill: new echarts.graphic.LinearGradient(0, 0, 0, 1, stops) }
                        };
                    }
                }
            ].concat(dodgeSeries(genderByRun, 2), dodgeSeries(ageByRun, 3))
        };
        chart_container.setOption(option);
    </script>
</body>

</html>
